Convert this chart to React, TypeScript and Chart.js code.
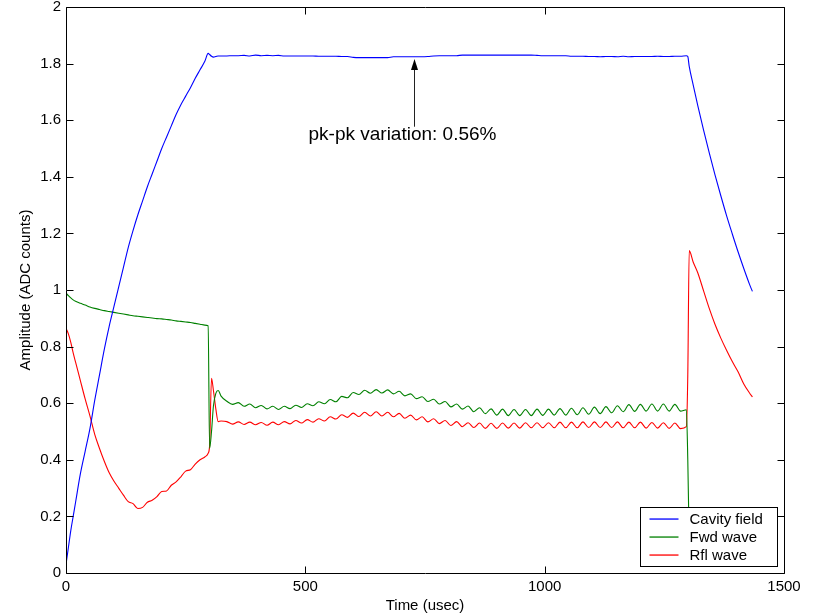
import React, { useEffect, useRef } from "react";
import { Chart, registerables } from "chart.js";

Chart.register(...registerables);

const FONT = '"Liberation Sans", Arial, Helvetica, sans-serif';

// Time axis (usec)
const timeUs = [
  0, 5, 10, 15, 20,
  30, 40, 50, 60, 70, 80, 90, 100, 110, 120,
  130, 140, 150, 160, 170, 180, 190, 200, 210, 220,
  230, 240, 250, 260, 270, 280, 290, 297,
  300, 304, 308, 313, 318,
  324, 336, 348, 360, 372, 384, 396, 408, 420, 432,
  444, 456, 468, 480, 492, 504, 516, 528, 540, 552,
  564, 576, 588, 600, 612, 624, 636, 648, 660, 672,
  684, 696, 708, 720, 732, 744, 756, 768, 780, 792,
  804, 816, 828, 840, 852, 864, 876, 888, 900, 912,
  924, 936, 948, 960, 972, 984, 996, 1008, 1020, 1032,
  1044, 1056, 1068, 1080, 1092, 1104, 1116, 1128, 1140, 1152,
  1164, 1176, 1188, 1200, 1212, 1224, 1236, 1248, 1260, 1272,
  1284, 1296,
  1299, 1302, 1310, 1320, 1332, 1344, 1356, 1368, 1380, 1392, 1404, 1416, 1428, 1434,
];

const cavityField = [
  0.03, 0.09, 0.15, 0.2, 0.25,
  0.35, 0.43, 0.51, 0.61, 0.7, 0.79, 0.87, 0.94, 1.01, 1.08,
  1.15, 1.21, 1.265, 1.315, 1.365, 1.41, 1.455, 1.5, 1.54, 1.58,
  1.62, 1.655, 1.685, 1.715, 1.748, 1.778, 1.808, 1.836,
  1.832, 1.826, 1.823, 1.825, 1.827,
  1.827, 1.827, 1.828, 1.828, 1.829, 1.827, 1.83, 1.828, 1.829, 1.828,
  1.829, 1.827, 1.827, 1.827, 1.827, 1.827, 1.827, 1.826, 1.826, 1.826,
  1.826, 1.825, 1.825, 1.822, 1.821, 1.821, 1.821, 1.821, 1.821, 1.821,
  1.824, 1.824, 1.824, 1.824, 1.824, 1.824, 1.825, 1.827, 1.828, 1.828,
  1.828, 1.828, 1.83, 1.83, 1.83, 1.83, 1.83, 1.83, 1.83, 1.83,
  1.83, 1.83, 1.83, 1.83, 1.83, 1.829, 1.828, 1.828, 1.828, 1.828,
  1.828, 1.826, 1.826, 1.826, 1.825, 1.825, 1.824, 1.825, 1.825, 1.824,
  1.826, 1.824, 1.825, 1.825, 1.825, 1.825, 1.826, 1.825, 1.825, 1.826,
  1.826, 1.828,
  1.825, 1.79, 1.727, 1.651, 1.565, 1.484, 1.406, 1.333, 1.263, 1.198, 1.135, 1.076, 1.02, 0.995,
];

const fwdWave = [
  0.99, 0.98, 0.972, 0.965, 0.96,
  0.953, 0.947, 0.94, 0.935, 0.931, 0.927, 0.924, 0.921, 0.918, 0.915,
  0.912, 0.909, 0.907, 0.905, 0.903, 0.901, 0.899, 0.898, 0.896, 0.894,
  0.891, 0.889, 0.887, 0.885, 0.882, 0.879, 0.876, 0.874,
  0.44, 0.5, 0.59, 0.635, 0.645,
  0.625, 0.607, 0.596, 0.602, 0.589, 0.597, 0.584, 0.592, 0.58, 0.589,
  0.578, 0.589, 0.581, 0.593, 0.585, 0.598, 0.591, 0.605, 0.598, 0.613,
  0.605, 0.624, 0.619, 0.638, 0.631, 0.646, 0.635, 0.648, 0.636, 0.647,
  0.633, 0.642, 0.626, 0.633, 0.616, 0.623, 0.606, 0.614, 0.597, 0.606,
  0.587, 0.597, 0.579, 0.59, 0.57, 0.584, 0.563, 0.58, 0.558, 0.579,
  0.556, 0.578, 0.556, 0.578, 0.556, 0.579, 0.557, 0.579, 0.558, 0.581,
  0.558, 0.582, 0.559, 0.584, 0.561, 0.586, 0.563, 0.588, 0.566, 0.591,
  0.57, 0.595, 0.571, 0.596, 0.572, 0.597, 0.572, 0.597, 0.572, 0.596,
  0.572, 0.577,
  0.4, 0.1, null, null, null, null, null, null, null, null, null, null, null, null,
];

const rflWave = [
  0.865, 0.845, 0.815, 0.778, 0.745,
  0.68, 0.615, 0.555, 0.49, 0.44, 0.395, 0.355, 0.325, 0.3, 0.275,
  0.252, 0.245, 0.228, 0.232, 0.25, 0.257, 0.27, 0.288, 0.29, 0.31,
  0.322, 0.34, 0.36, 0.365, 0.385, 0.4, 0.41, 0.423,
  0.45, 0.688, 0.645, 0.58, 0.535,
  0.537, 0.535, 0.526, 0.534, 0.525, 0.533, 0.524, 0.532, 0.522, 0.533,
  0.524, 0.535, 0.527, 0.539, 0.53, 0.542, 0.533, 0.545, 0.537, 0.552,
  0.544, 0.559, 0.55, 0.565, 0.553, 0.568, 0.555, 0.57, 0.555, 0.568,
  0.552, 0.564, 0.547, 0.558, 0.541, 0.552, 0.534, 0.545, 0.528, 0.539,
  0.521, 0.535, 0.517, 0.531, 0.514, 0.53, 0.511, 0.529, 0.511, 0.53,
  0.512, 0.53, 0.512, 0.531, 0.513, 0.531, 0.513, 0.531, 0.513, 0.533,
  0.513, 0.533, 0.513, 0.534, 0.514, 0.534, 0.514, 0.534, 0.514, 0.534,
  0.513, 0.533, 0.513, 0.533, 0.512, 0.532, 0.512, 0.531, 0.511, 0.53,
  0.51, 0.517,
  0.7, 1.139, 1.1, 1.06, 0.997, 0.934, 0.878, 0.83, 0.787, 0.747, 0.711, 0.668, 0.636, 0.622,
];

const seriesLabels = ["Cavity field", "Fwd wave", "Rfl wave"];
const seriesColors = ["#0000ff", "#008000", "#ff0000"];
const seriesValues = [cavityField, fwdWave, rflWave];

const xTickValues = [0, 500, 1000, 1500];
const xTickLabels = ["0", "500", "1000", "1500"];
const yTickValues = [0, 0.2, 0.4, 0.6, 0.8, 1, 1.2, 1.4, 1.6, 1.8, 2];
const yTickLabels = ["0", "0.2", "0.4", "0.6", "0.8", "1", "1.2", "1.4", "1.6", "1.8", "2"];

const xTitle = "Time (usec)";
const yTitle = "Amplitude (ADC counts)";

const annotationText = "pk-pk variation: 0.56%";
const arrowX = 728;
const arrowTipY = 1.816;
const arrowBaseY = 1.577;
const annotationX = 703;
const annotationY = 1.53;

const framePlugin = {
  id: "matlabFrame",
  afterDraw(chart: any) {
    const { ctx, chartArea: a } = chart;
    const xs = chart.scales.x;
    const ys = chart.scales.y;
    const L = Math.round(a.left) + 0.5;
    const R = Math.round(a.right) + 0.5;
    const T = Math.round(a.top) + 0.5;
    const B = Math.round(a.bottom) + 0.5;
    ctx.save();
    ctx.strokeStyle = "#000";
    ctx.lineWidth = 1;
    ctx.beginPath();
    ctx.rect(L, T, R - L, B - T);
    ctx.stroke();
    const tick = 7;
    ctx.beginPath();
    xs.ticks.forEach((t: any) => {
      const px = Math.round(xs.getPixelForValue(t.value)) + 0.5;
      ctx.moveTo(px, B);
      ctx.lineTo(px, B - tick);
      ctx.moveTo(px, T);
      ctx.lineTo(px, T + tick);
    });
    ys.ticks.forEach((t: any) => {
      const py = Math.round(ys.getPixelForValue(t.value)) + 0.5;
      ctx.moveTo(L, py);
      ctx.lineTo(L + tick, py);
      ctx.moveTo(R, py);
      ctx.lineTo(R - tick, py);
    });
    ctx.stroke();

    // annotation arrow
    const ax = Math.round(xs.getPixelForValue(arrowX)) + 0.5;
    const tipY = ys.getPixelForValue(arrowTipY);
    const baseY = ys.getPixelForValue(arrowBaseY);
    ctx.strokeStyle = "#222";
    ctx.beginPath();
    ctx.moveTo(ax, baseY);
    ctx.lineTo(ax, tipY + 9);
    ctx.stroke();
    ctx.fillStyle = "#000";
    ctx.beginPath();
    ctx.moveTo(ax, tipY);
    ctx.lineTo(ax - 3.5, tipY + 11);
    ctx.lineTo(ax + 3.5, tipY + 11);
    ctx.closePath();
    ctx.fill();

    ctx.font = `19px ${FONT}`;
    ctx.textAlign = "center";
    ctx.textBaseline = "alphabetic";
    ctx.fillText(annotationText, xs.getPixelForValue(annotationX), ys.getPixelForValue(annotationY));

    // legend inside plot, bottom-right
    const lw = 137;
    const lh = 59;
    const lx = Math.round(a.right) - 7 - lw + 0.5;
    const ly = Math.round(a.bottom) - 7 - lh + 0.5;
    ctx.fillStyle = "#ffffff";
    ctx.fillRect(lx, ly, lw, lh);
    ctx.strokeStyle = "#000000";
    ctx.strokeRect(lx, ly, lw, lh);
    const rows = [11, 29.5, 47];
    ctx.font = `15px ${FONT}`;
    ctx.textAlign = "left";
    ctx.textBaseline = "middle";
    seriesLabels.forEach((label, i) => {
      const y = Math.round(ly + rows[i]);
      ctx.fillStyle = seriesColors[i];
      ctx.fillRect(lx + 9, y - 0.6, 29, 1.3);
      ctx.fillStyle = "#000000";
      ctx.fillText(label, lx + 49, y + 1);
    });
    ctx.restore();
  },
};

export default function App() {
  const ref = useRef<HTMLCanvasElement | null>(null);
  useEffect(() => {
    document.body.style.margin = "0";
    const canvas = ref.current;
    if (!canvas) return;
    const chart = new Chart(canvas, {
      type: "line",
      data: {
        datasets: seriesLabels.map((label, k) => ({
          label,
          data: timeUs.map((t, i) => ({ x: t, y: seriesValues[k][i] })),
          borderColor: seriesColors[k],
          backgroundColor: seriesColors[k],
          borderWidth: 1.1,
          pointRadius: 0,
          fill: false,
          spanGaps: false,
          cubicInterpolationMode: "monotone",
        })),
      },
      options: {
        responsive: false,
        animation: false,
        devicePixelRatio: 1,
        layout: { padding: { left: 0, top: 7, right: 34, bottom: 0 }, autoPadding: false },
        plugins: {
          legend: { display: false },
          tooltip: { enabled: false },
        },
        scales: {
          x: {
            type: "linear",
            min: 0,
            max: 1500,
            afterBuildTicks: (s: any) => {
              s.ticks = xTickValues.map((v) => ({ value: v }));
            },
            ticks: {
              callback: (_v: any, i: number) => xTickLabels[i],
              font: { family: FONT, size: 15 },
              color: "#000",
              padding: 5,
              maxRotation: 0,
              autoSkip: false,
            },
            grid: { display: false, drawTicks: false },
            border: { display: false },
            title: {
              display: true,
              text: xTitle,
              color: "#000",
              font: { family: FONT, size: 15 },
              padding: { top: 0, bottom: 1 },
            },
            afterFit: (s: any) => {
              s.height = 43;
              s.paddingLeft = 0;
              s.paddingRight = 0;
            },
          },
          y: {
            type: "linear",
            min: 0,
            max: 2,
            afterBuildTicks: (s: any) => {
              s.ticks = yTickValues.map((v) => ({ value: v }));
            },
            ticks: {
              callback: (_v: any, i: number) => yTickLabels[i],
              font: { family: FONT, size: 15 },
              color: "#000",
              padding: 5,
              autoSkip: false,
            },
            grid: { display: false, drawTicks: false },
            border: { display: false },
            title: {
              display: true,
              text: yTitle,
              color: "#000",
              font: { family: FONT, size: 15 },
              padding: { top: 17, bottom: 0 },
            },
            afterFit: (s: any) => {
              s.width = 66;
              s.paddingTop = 0;
              s.paddingBottom = 0;
            },
          },
        },
      },
      plugins: [framePlugin],
    } as any);
    return () => chart.destroy();
  }, []);
  return <canvas ref={ref} width={818} height={616} style={{ display: "block" }} />;
}
